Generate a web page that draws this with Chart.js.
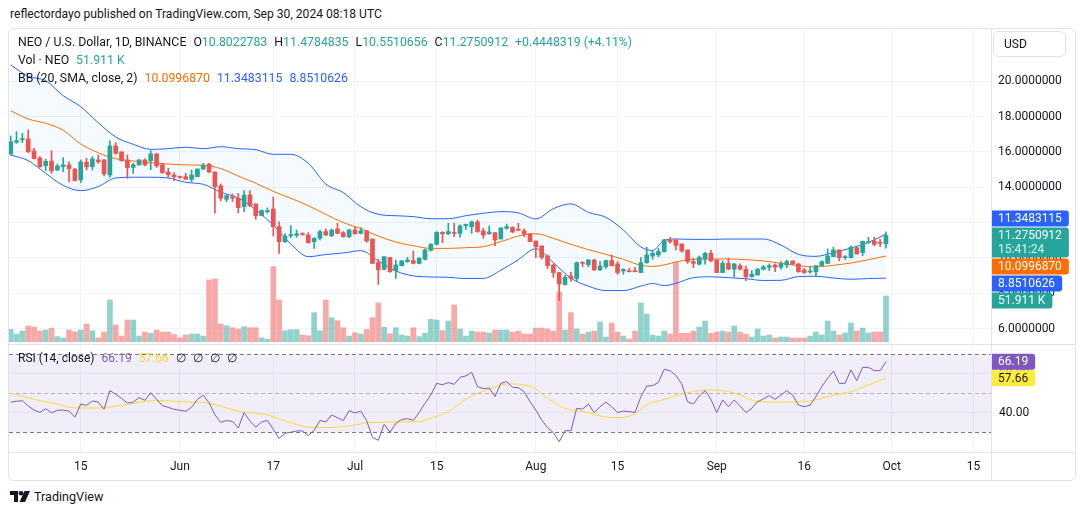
<!DOCTYPE html>
<html>
<head>
<meta charset="utf-8">
<title>NEO / U.S. Dollar, 1D</title>
<script src="https://cdn.jsdelivr.net/npm/chart.js@4/dist/chart.umd.min.js"></script>
<style>
  body { margin: 0; width: 1080px; height: 515px; background: #fff; position: relative; overflow: hidden;
         font-family: Roboto, "Liberation Sans", sans-serif; color: #131722; }
  .abs { position: absolute; }
  canvas { position: absolute; }
  #header { left: 10px; top: 6px; font-size: 12.1px; line-height: 16px; color: #131722; white-space: nowrap; }
  #frame { left: 8px; top: 28px; width: 1068px; height: 453px; border: 1px solid #e0e3eb; border-radius: 6px; box-sizing: border-box; }
  .hline { height: 1px; background: #e0e3eb; left: 9px; width: 1066px; }
  .vline { width: 1px; background: #e0e3eb; }
  .legend { left: 18px; font-size: 12.3px; line-height: 18px; white-space: nowrap; }
  .legend span { margin-right: 7px; }
  #legendRsi { font-size: 12px; }
  #usd { left: 993px; top: 31px; width: 73px; height: 26px; border: 1px solid #e0e3eb; border-radius: 6px;
         box-sizing: border-box; font-size: 12px; line-height: 24px; padding-left: 10px; }
  #footer { left: 10px; top: 489px; font-size: 12.6px; line-height: 16px; display: flex; align-items: center; gap: 4px; }
</style>
</head>
<body>
<div id="header" class="abs">reflectordayo published on TradingView.com, Sep 30, 2024 08:18 UTC</div>
<div id="frame" class="abs"></div>
<canvas id="priceChart" width="1067" height="314" style="left:9px;top:30px"></canvas>
<canvas id="rsiChart" width="1067" height="135" style="left:9px;top:345px"></canvas>
<div class="abs hline" style="top:344px"></div>
<div class="abs hline" style="top:452px"></div>
<div class="abs vline" style="left:991px;top:29px;height:451px"></div>
<div id="usd" class="abs">USD</div>
<div id="legendMain" class="abs legend" style="top:33px"></div>
<div id="legendVol" class="abs legend" style="top:51px"></div>
<div id="legendBB" class="abs legend" style="top:69px"></div>
<div id="legendRsi" class="abs legend" style="top:349px"></div>
<div id="footer" class="abs">
  <svg width="20" height="12" viewBox="0 0 20 12"><path d="M0 0H8V11H4V4H0Z" fill="#131722"/><circle cx="11" cy="2.3" r="2.3" fill="#131722"/><path d="M14.5 0H20L15 11H9.5Z" fill="#131722"/></svg>
  <span>TradingView</span>
</div>
<script>
// NEO / USD daily bars, index 0 = May 3 2024, last = Sep 30 2024
const opens = [
  15.89,16.55,16.70,16.74,16.06,15.66,15.23,15.49,14.98,15.17,15.27,15.02,14.42,15.42,15.17,15.55,15.55,14.70,16.34,16.00,15.55,15.13,15.27,15.55,15.51,15.89,15.27,14.87,14.70,
  14.60,14.60,14.45,14.60,15.04,15.30,14.87,14.08,13.32,13.47,13.38,12.90,13.57,13.06,12.39,12.62,12.77,11.77,10.92,11.26,11.28,11.37,11.30,10.92,11.11,11.49,11.26,11.64,11.43,11.20,
  11.58,11.39,11.53,11.07,9.73,9.35,10.02,9.28,9.56,9.79,9.85,9.69,9.92,10.43,10.77,11.45,11.36,11.43,11.39,11.83,11.77,12.04,11.53,11.36,11.43,11.07,11.68,11.73,11.60,11.53,11.37,
  10.96,10.68,10.11,9.60,9.17,8.49,8.98,8.83,9.75,9.62,9.88,9.32,9.50,9.85,9.66,9.26,9.26,9.26,9.17,9.73,10.11,10.17,10.36,11.02,11.02,10.79,10.45,9.79,9.64,9.94,10.26,
  9.88,9.17,9.69,9.36,9.56,9.36,8.94,9.03,9.36,9.47,9.60,9.47,9.60,9.83,9.66,9.32,9.20,9.22,9.56,9.69,10.07,10.45,10.02,10.02,10.58,10.30,10.86,10.96,10.85,10.8022783
];
const highs = [
  16.91,17.15,17.06,17.25,16.21,15.74,15.59,16.08,15.32,15.68,15.45,15.08,15.55,15.64,15.74,15.83,15.59,16.63,16.53,16.02,15.83,15.36,15.59,15.61,16.08,15.93,15.36,15.08,14.83,
  14.64,14.79,14.98,15.04,15.36,15.36,14.87,14.19,13.57,13.62,13.66,13.81,13.81,13.06,12.72,12.83,13.43,12.04,11.36,11.83,11.58,11.43,11.43,11.15,11.58,11.64,11.64,11.96,11.49,11.62,
  11.77,11.71,11.54,11.07,9.92,10.07,10.03,9.88,9.86,10.03,10.39,10.02,10.51,10.81,11.49,11.49,11.96,11.96,11.87,11.92,12.09,12.13,11.68,11.81,11.43,11.71,11.92,11.77,11.96,11.64,11.37,
  10.96,10.68,10.17,9.66,9.19,9.01,9.20,9.77,9.79,9.92,9.92,9.79,9.88,10.17,9.79,9.39,9.41,9.47,10.02,10.60,10.41,10.54,11.05,11.17,11.02,10.79,10.45,9.98,10.11,10.32,10.45,
  9.88,9.83,9.98,9.69,9.66,9.54,9.28,9.41,9.58,9.66,9.66,9.79,9.88,9.83,9.69,9.41,9.51,9.56,9.83,10.51,10.60,10.45,10.13,10.68,10.60,10.96,11.17,11.17,11.05,11.4784835
];
const lows = [
  15.83,16.49,16.53,15.96,15.61,15.13,14.94,14.79,14.94,14.89,14.30,14.36,14.26,14.98,14.98,15.36,14.64,14.57,15.87,15.47,14.51,14.79,15.25,15.21,15.00,15.13,14.79,14.57,14.38,
  14.51,14.45,14.32,14.60,15.00,14.83,12.53,13.23,13.19,13.19,12.56,12.62,12.90,12.19,12.38,12.53,11.24,10.26,10.86,11.15,11.17,11.28,10.84,10.54,11.02,11.26,11.20,11.36,11.17,11.15,
  11.34,11.36,10.88,9.66,8.50,9.32,9.18,8.84,9.54,9.75,9.66,9.66,9.88,10.39,10.73,10.86,11.32,11.20,11.17,11.62,11.39,11.45,11.11,11.34,10.70,11.07,11.62,11.43,11.54,11.20,10.92,
  10.02,9.92,9.39,8.90,7.58,8.45,8.67,8.71,9.50,9.50,9.28,9.28,9.41,9.54,9.07,9.07,9.20,9.20,9.17,9.69,9.92,10.07,10.32,10.83,10.45,10.32,9.69,9.45,9.60,9.64,9.79,
  9.17,9.17,9.32,8.92,9.32,8.71,8.90,9.03,9.32,9.28,9.22,9.36,9.45,9.62,9.18,9.11,9.13,9.00,9.56,9.69,10.07,9.83,9.92,9.98,10.22,10.13,10.83,10.68,10.64,10.5510656
];
const closes = [
  16.59,16.64,16.76,16.02,15.62,15.17,15.47,14.94,15.21,15.27,15.06,14.38,15.44,15.17,15.61,15.45,14.76,16.34,15.93,15.51,15.11,15.27,15.55,15.27,15.89,15.21,14.83,14.72,14.60,
  14.56,14.45,14.70,15.04,15.25,14.87,14.04,13.38,13.53,13.38,12.85,13.55,12.96,12.39,12.68,12.68,11.77,10.92,11.24,11.32,11.37,11.32,10.86,11.11,11.49,11.30,11.58,11.39,11.20,11.58,
  11.37,11.54,10.96,9.69,9.32,10.07,9.22,9.60,9.83,9.88,9.69,9.98,10.45,10.77,11.45,11.36,11.49,11.39,11.81,11.90,12.04,11.49,11.30,11.47,11.02,11.70,11.77,11.47,11.56,11.34,10.92,
  10.64,10.03,9.56,9.17,8.52,8.90,8.83,9.73,9.69,9.88,9.32,9.54,9.85,9.56,9.17,9.35,9.22,9.22,9.73,10.17,10.26,10.36,11.02,10.92,10.71,10.39,9.79,9.69,10.02,10.26,9.83,
  9.17,9.69,9.36,9.66,9.36,8.94,9.07,9.36,9.49,9.56,9.47,9.66,9.79,9.66,9.22,9.17,9.26,9.56,9.79,10.11,10.45,10.02,10.07,10.60,10.22,10.94,10.92,10.77,10.8302593,11.2750912
];
// volume in thousands of NEO
const volumes = [
  14.0,8.7,12.1,17.8,16.7,12.1,13.3,15.5,5.7,4.2,13.3,11.4,13.3,20.1,12.5,4.5,11.0,47.4,19.0,6.4,24.6,24.6,6.4,11.0,9.5,13.3,11.0,11.0,8.3,
  4.5,7.6,8.7,8.7,6.4,70.1,71.3,20.1,18.2,15.9,14.4,17.1,15.9,15.9,4.5,3.0,85.3,47.4,12.5,13.6,13.6,7.6,6.8,33.0,12.5,47.4,27.3,23.9,15.9,6.4,
  10.2,8.7,14.0,27.3,44.0,16.3,9.1,15.9,7.6,6.4,15.9,5.7,9.5,25.4,24.6,12.5,23.5,41.7,14.4,6.4,12.1,11.0,11.0,9.9,13.3,13.3,13.3,11.0,12.1,8.7,8.7,
  15.5,15.5,14.4,12.1,56.5,13.3,33.0,14.4,8.7,11.0,12.1,22.4,5.3,21.2,11.0,6.4,3.0,12.1,44.0,31.5,7.6,6.4,12.1,8.7,90.2,9.5,9.5,12.1,16.7,23.5,9.5,
  11.0,12.1,11.0,17.8,11.0,8.7,5.3,14.4,6.4,7.6,4.2,5.3,5.3,4.2,4.2,4.2,6.4,11.0,7.6,23.5,12.1,7.6,9.9,21.2,12.1,15.5,9.9,11.0,11.0,51.911
];
const rsi = [
  45.5,45.9,46.2,43.5,41.4,40.2,42.1,40.0,41.3,41.4,40.9,37.7,44.5,43.8,46.1,45.5,41.8,51.4,49.5,47.4,
  45.0,45.5,47.8,46.4,50.3,46.9,43.7,42.8,41.8,41.3,40.8,42.8,46.9,49.0,45.2,39.0,35.1,36.0,35.6,32.2,
  40.1,35.8,32.7,35.3,36.1,31.5,26.9,29.5,30.0,30.7,30.7,28.4,31.0,36.1,35.3,38.9,37.5,36.0,41.1,39.9,
  40.9,36.0,27.4,25.9,34.1,30.0,34.6,36.6,37.0,36.1,40.1,44.9,49.1,55.1,54.4,55.5,54.6,58.2,58.9,60.8,
  53.4,52.4,52.7,48.3,55.1,56.0,53.1,52.9,50.8,45.7,41.4,36.3,32.5,29.8,25.2,30.8,30.8,42.3,41.9,44.5,
  40.1,43.1,45.5,43.1,40.1,40.9,40.6,40.2,48.3,53.7,53.9,55.6,62.3,61.6,59.2,54.8,45.7,44.5,48.6,51.4,
  46.9,40.1,46.6,43.1,46.6,43.5,40.1,42.3,45.7,47.1,48.9,46.9,49.1,51.4,49.1,44.0,43.1,44.0,48.3,53.4,
  57.7,61.4,55.1,55.1,62.0,56.5,63.3,63.3,61.6,61.6,66.19
];
const rsiMaDays = [0,4,8,11,15,20,25,29,34,39,44,47,50,52,55,59,61,67,70,72,75,78,80,82,85,89,92,95,99,101,104,107,109,112,115,117,119,122,125,128,132,137,141,144,147,150];
const rsiMa = [50.0,46.9,44.5,42.5,42.5,44.3,46.4,45.7,44.9,40.9,38.9,35.8,33.2,32.4,32.5,33.7,34.9,35.3,35.5,37.2,40.6,47.0,50.0,52.0,54.8,53.7,47.4,42.3,40.1,38.4,37.5,39.4,44.0,46.9,49.6,50.8,51.7,51.4,49.1,45.7,45.5,46.1,49.1,50.8,54.3,57.66];

// Bollinger bands (20, 2) every few bars
const bbDays = [0,3,6,9,12,15,18,21,24,27,30,33,36,39,42,45,48,51,54,57,60,63,66,69,72,75,78,81,84,87,90,93,96,99,102,105,108,110,112,114,117,120,123,126,129,132,135,138,141,144,147,150];
const bbUpper = [20.93,20.29,20.04,19.19,18.57,17.66,16.85,16.44,16.15,16.19,16.27,16.19,16.30,16.19,16.13,15.87,15.87,15.36,14.19,13.70,12.90,12.47,12.39,12.34,12.22,12.22,12.39,12.53,12.62,12.55,12.21,12.79,13.06,12.58,12.30,11.58,10.62,10.42,11.00,11.07,11.05,11.05,11.07,11.07,11.07,10.73,10.20,10.09,10.30,10.56,10.88,11.3483115];
const bbMid = [18.34,17.87,17.63,17.23,16.46,15.96,15.62,15.49,15.40,15.32,15.27,15.25,15.06,14.64,14.23,13.77,13.38,12.96,12.47,12.00,11.66,11.24,10.90,10.69,10.54,10.54,10.58,10.64,10.92,11.24,11.37,11.11,10.77,10.47,10.20,9.92,9.58,9.52,9.60,9.77,9.92,9.94,9.94,9.90,9.83,9.69,9.56,9.49,9.58,9.71,9.90,10.0996870];
const bbLower = [15.83,15.51,14.79,14.11,13.81,14.04,14.53,14.57,14.57,14.53,14.28,14.17,13.72,13.40,12.72,11.85,10.79,10.07,10.19,10.28,10.41,9.83,9.26,8.98,8.92,8.90,8.83,8.84,9.30,9.90,10.52,9.73,8.85,8.40,8.15,8.15,8.40,8.55,8.43,8.56,8.88,8.93,8.88,8.82,8.72,8.73,8.94,8.96,8.86,8.79,8.83,8.8510626];

// time axis: May 15, Jun 1, Jun 17, Jul 1, Jul 15, Aug 1, Aug 15, Sep 1, Sep 16, Oct 1, Oct 15
const tickDays = [12, 29, 45, 59, 73, 90, 104, 121, 136, 151, 165];
const tickLabels = ['15', 'Jun', '17', 'Jul', '15', 'Aug', '15', 'Sep', '16', 'Oct', '15'];
const priceTicks = [6, 8, 10, 12, 14, 16, 18, 20];
const rsiTicks = [40, 60];
const rsiLevels = [70, 50, 30];
const barCountdown = '15:41:24';

const UP = '#26a69a';
const DOWN = '#ef5350';
const BLUE = '#2962ff';
const ORANGE = '#ff6d00';
const PURPLE = '#7e57c2';
const YELLOW = '#fdd835';
const GRID = '#f0f3fa';
const FONT = 'Roboto, "Liberation Sans", sans-serif';

const last = closes.length - 1;
const isUp = closes.map((c, i) => c >= opens[i]);
const xMin = -0.29;
const xMax = 168;

Chart.defaults.font.family = FONT;
Chart.defaults.font.size = 12;
Chart.defaults.color = '#131722';

// Legends
const fmt = v => v.toFixed(7);
const change = closes[last] - closes[last - 1];
const pct = change / closes[last - 1] * 100;
const g = t => `<b style="font-weight:normal;color:${UP}">${t}</b>`;
document.getElementById('legendMain').innerHTML =
  `<span>NEO / U.S. Dollar, 1D, BINANCE</span><span>O${g(fmt(opens[last]))}</span><span>H${g(fmt(highs[last]))}</span>` +
  `<span>L${g(fmt(lows[last]))}</span><span>C${g(fmt(closes[last]))}</span><span>${g(`+${fmt(change)} (+${pct.toFixed(2)}%)`)}</span>`;
document.getElementById('legendVol').innerHTML = `<span>Vol · NEO</span><span>${g(volumes[last].toFixed(3) + ' K')}</span>`;
document.getElementById('legendBB').innerHTML =
  `<span>BB (20, SMA, close, 2)</span><span style="color:${ORANGE}">${fmt(bbMid[bbMid.length - 1])}</span>` +
  `<span style="color:${BLUE}">${fmt(bbUpper[bbUpper.length - 1])}</span><span style="color:${BLUE}">${fmt(bbLower[bbLower.length - 1])}</span>`;
document.getElementById('legendRsi').innerHTML =
  `<span>RSI (14, close)</span><span style="color:${PURPLE}">${rsi[last].toFixed(2)}</span>` +
  `<span style="color:${YELLOW}">${rsiMa[rsiMa.length - 1].toFixed(2)}</span><span>∅</span><span>∅</span><span>∅</span><span>∅</span>`;

// Axis label tags on the right edge
function drawTag(ctx, x, top, h, bg, fg, lines) {
  ctx.save();
  ctx.font = `12px ${FONT}`;
  const w = Math.max(...lines.map(t => ctx.measureText(t).width)) + 14;
  ctx.fillStyle = bg;
  ctx.beginPath();
  ctx.roundRect(x, top, w, h, [0, 3, 3, 0]);
  ctx.fill();
  ctx.textBaseline = 'middle';
  ctx.textAlign = 'left';
  lines.forEach((t, k) => {
    ctx.fillStyle = k ? 'rgba(255,255,255,0.85)' : fg;
    ctx.fillText(t, x + 7, top + 8.5 + k * 14);
  });
  ctx.restore();
}

const priceTags = {
  id: 'priceTags',
  afterDraw(chart) {
    const { ctx, scales } = chart;
    const x = chart.chartArea.right;
    const tags = [
      { y: scales.y.getPixelForValue(bbUpper[bbUpper.length - 1]), bg: BLUE, lines: [fmt(bbUpper[bbUpper.length - 1])] },
      { y: scales.y.getPixelForValue(closes[last]), bg: UP, lines: [fmt(closes[last]), barCountdown], anchor: true },
      { y: scales.y.getPixelForValue(bbMid[bbMid.length - 1]), bg: ORANGE, lines: [fmt(bbMid[bbMid.length - 1])] },
      { y: scales.y.getPixelForValue(bbLower[bbLower.length - 1]), bg: BLUE, lines: [fmt(bbLower[bbLower.length - 1])] },
      { y: scales.yVol.getPixelForValue(volumes[last]), bg: UP, lines: [volumes[last].toFixed(3) + ' K'] }
    ];
    tags.sort((a, b) => a.y - b.y);
    tags.forEach(t => { t.h = t.lines.length > 1 ? 30 : 16; t.top = t.y - 8; });
    const k = tags.findIndex(t => t.anchor);
    for (let i = k - 1; i >= 0; i--) tags[i].top = Math.min(tags[i].top, tags[i + 1].top - tags[i].h - 1);
    for (let i = k + 1; i < tags.length; i++) tags[i].top = Math.max(tags[i].top, tags[i - 1].top + tags[i - 1].h + 1);
    tags.forEach(t => drawTag(ctx, x, t.top, t.h, t.bg, '#ffffff', t.lines));
  }
};

const rsiDecor = {
  id: 'rsiDecor',
  beforeDatasetsDraw(chart) {
    const { ctx, chartArea: a, scales: { y } } = chart;
    const top = y.getPixelForValue(rsiLevels[0]);
    const bot = y.getPixelForValue(rsiLevels[2]);
    ctx.save();
    ctx.fillStyle = 'rgba(126,87,194,0.1)';
    ctx.fillRect(a.left, top, a.right - a.left, bot - top);
    ctx.setLineDash([4, 3]);
    ctx.lineWidth = 1;
    rsiLevels.forEach((v, k) => {
      const py = Math.round(y.getPixelForValue(v)) + 0.5;
      ctx.strokeStyle = k === 1 ? 'rgba(120,123,134,0.5)' : '#787b86';
      ctx.beginPath();
      ctx.moveTo(a.left, py);
      ctx.lineTo(a.right, py);
      ctx.stroke();
    });
    ctx.restore();
  },
  afterDraw(chart) {
    const { ctx, scales: { y } } = chart;
    const x = chart.chartArea.right;
    drawTag(ctx, x, y.getPixelForValue(rsi[last]) - 8, 16, PURPLE, '#ffffff', [rsi[last].toFixed(2)]);
    drawTag(ctx, x, y.getPixelForValue(rsiMa[rsiMa.length - 1]) - 8, 16, '#ffeb3b', '#131722', [rsiMa[rsiMa.length - 1].toFixed(2)]);
  }
};

const timeTicks = s => { s.ticks = tickDays.map(v => ({ value: v })); };
const bandLine = (vals, color, extra) => Object.assign({
  type: 'line',
  data: bbDays.map((d, k) => ({ x: d, y: vals[k] })),
  borderColor: color, borderWidth: 1, pointRadius: 0,
  cubicInterpolationMode: 'monotone', fill: false, order: 5
}, extra);

// Price pane: candles, Bollinger bands, volume
new Chart(document.getElementById('priceChart'), {
  type: 'bar',
  data: {
    datasets: [
      bandLine(bbUpper, BLUE, { fill: '+2', backgroundColor: 'rgba(33,150,243,0.05)' }),
      bandLine(bbMid, ORANGE, { order: 4 }),
      bandLine(bbLower, BLUE),
      {
        data: volumes.map((v, i) => ({ x: i, y: v })), yAxisID: 'yVol',
        backgroundColor: isUp.map(u => u ? 'rgba(38,166,154,0.5)' : 'rgba(239,83,80,0.5)'),
        barThickness: 5, grouped: false, order: 10
      },
      {
        data: lows.map((l, i) => ({ x: i, y: [l, highs[i]] })),
        backgroundColor: isUp.map(u => u ? UP : DOWN),
        barThickness: 1, grouped: false, order: 2
      },
      {
        data: opens.map((o, i) => ({ x: i, y: [o, closes[i]] })),
        backgroundColor: isUp.map(u => u ? UP : DOWN),
        barThickness: 4, minBarLength: 1, grouped: false, order: 1
      }
    ]
  },
  options: {
    responsive: false,
    animation: false,
    layout: { padding: 0 },
    plugins: { legend: { display: false }, tooltip: { enabled: false } },
    scales: {
      x: {
        type: 'linear', min: xMin, max: xMax, offset: false,
        ticks: { display: false }, border: { display: false },
        grid: { color: GRID, drawTicks: false, offset: false },
        afterBuildTicks: timeTicks,
        afterFit: s => { s.height = 0; s.paddingLeft = 0; s.paddingRight = 0; }
      },
      y: {
        position: 'right', min: 5.122, max: 22.912,
        border: { display: false },
        grid: { color: GRID, drawTicks: false },
        ticks: { padding: 7, callback: v => v.toFixed(7) },
        afterBuildTicks: s => { s.ticks = priceTicks.map(v => ({ value: v })); },
        afterFit: s => { s.width = 85; s.paddingTop = 0; s.paddingBottom = 0; }
      },
      yVol: { display: false, min: -2.61, max: 354 }
    }
  },
  plugins: [priceTags]
});

// RSI pane with time axis
new Chart(document.getElementById('rsiChart'), {
  type: 'line',
  data: {
    datasets: [
      {
        data: rsi.map((v, i) => ({ x: i, y: v })),
        borderColor: PURPLE, borderWidth: 1, pointRadius: 0, tension: 0
      },
      {
        data: rsiMaDays.map((d, k) => ({ x: d, y: rsiMa[k] })),
        borderColor: YELLOW, borderWidth: 1, pointRadius: 0, cubicInterpolationMode: 'monotone'
      }
    ]
  },
  options: {
    responsive: false,
    animation: false,
    layout: { padding: 0 },
    plugins: { legend: { display: false }, tooltip: { enabled: false } },
    scales: {
      x: {
        type: 'linear', min: xMin, max: xMax, offset: false,
        border: { display: false },
        grid: { color: GRID, drawTicks: false },
        ticks: { padding: 8, autoSkip: false, maxRotation: 0, callback: v => tickLabels[tickDays.indexOf(v)] },
        afterBuildTicks: timeTicks,
        afterFit: s => { s.height = 28; s.paddingLeft = 0; s.paddingRight = 0; }
      },
      y: {
        position: 'right', min: 19.9, max: 74.77,
        border: { display: false },
        grid: { color: GRID, drawTicks: false },
        ticks: { padding: 8, callback: v => v.toFixed(2) },
        afterBuildTicks: s => { s.ticks = rsiTicks.map(v => ({ value: v })); },
        afterFit: s => { s.width = 85; s.paddingTop = 0; s.paddingBottom = 0; }
      }
    }
  },
  plugins: [rsiDecor]
});
</script>
</body>
</html>
